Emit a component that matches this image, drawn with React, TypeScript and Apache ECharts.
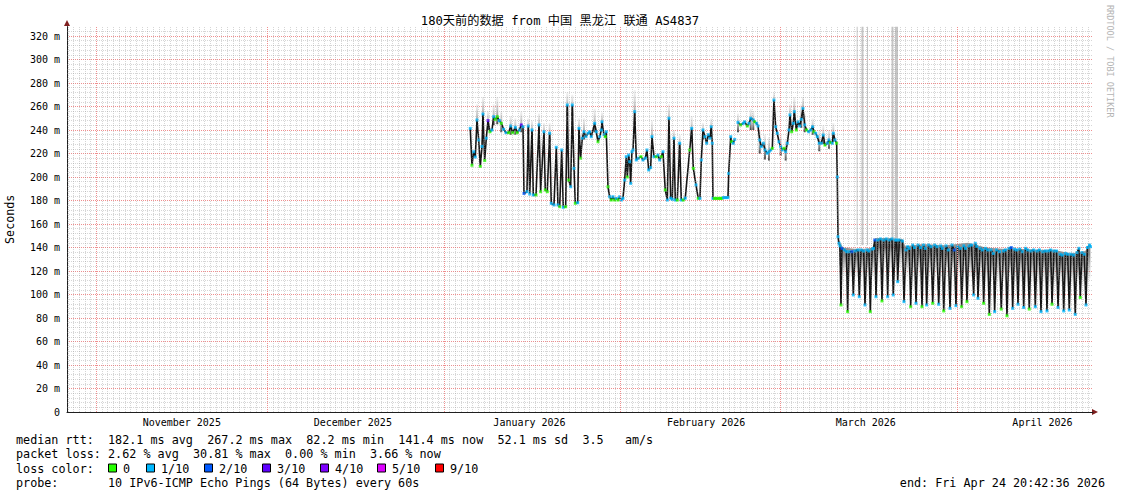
import React, { useEffect, useRef } from 'react';
import * as echarts from 'echarts';

const MONO = "'DejaVu Sans Mono', 'Liberation Mono', monospace";
const TITLE_FONT = "'DejaVu Sans Mono', 'Noto Sans CJK SC', monospace";
const AXIS_COLOR = '#1f1f1f';
const ARROW_COLOR = '#801f1f';
const GRID_COLOR = 'rgba(140,140,140,0.36)';
const MGRID_COLOR = '#ef8f8f';

// x = days since 2026-01-01 00:00
const X_START = -66.1375; // Sun Oct 26 20:42:36 2025
const X_END = 113.8625; // Fri Apr 24 20:42:36 2026
const Y_MAX = 328;

const TITLE = '180天前的数据 from 中国 黑龙江 联通 AS4837';
const monthStarts = [-61, -31, 0, 31, 59, 90];
const monthLabelDays = [-46, -16, 15, 46, 74, 105];
const monthLabels = ['November 2025', 'December 2025', 'January 2026', 'February 2026', 'March 2026', 'April 2026'];

const lossColors = ['#26ff00', '#00b8ff', '#0059ff', '#5e00ff', '#7e00ff', '#dd00ff', '#ff0000'];
const lossLabels = ['0', '1/10', '2/10', '3/10', '4/10', '5/10', '9/10'];

// median rtt [day, ms, loss level]
const medianJan = [
  [4.61, 241.4, 1], [4.91, 210, 0], [5.21, 221.5, 1], [5.49, 217, 1], [5.79, 248.5, 1], [6.09, 231.5, 1],
  [6.37, 209, 0], [6.67, 226, 1], [6.84, 253.6, 1], [7.14, 214, 0], [7.42, 233, 1], [7.72, 248, 3],
  [8.07, 238.5, 0], [8.42, 240, 1], [8.72, 251.3, 1], [9.0, 249, 0], [9.35, 251.3, 0], [9.7, 248, 1],
  [10.05, 245.7, 0], [10.47, 240.6, 1], [10.88, 237.7, 1], [11.35, 237.7, 0], [11.7, 243.4, 1], [12.05, 237.7, 0],
  [12.51, 242.3, 1], [12.86, 237.7, 0], [13.21, 240, 1], [13.56, 244.3, 3], [13.86, 242.8, 1], [14.04, 186, 2],
  [14.56, 187.5, 1], [14.79, 243.4, 1], [15.04, 185.5, 1], [15.44, 240, 1], [15.67, 184.7, 1], [16.14, 184.7, 0],
  [16.67, 244.3, 1], [16.96, 187.5, 0], [17.54, 238.5, 1], [17.77, 189, 0], [18.12, 187.5, 0], [18.54, 237.2, 1],
  [18.82, 177.6, 1], [19.3, 176.2, 1], [19.7, 225.3, 1], [20.0, 176.2, 1], [20.3, 174.7, 0], [20.65, 223, 1],
  [20.93, 174.2, 1], [21.35, 174.7, 0], [21.63, 261.3, 1], [21.88, 197.4, 0], [22.23, 191.7, 1], [22.51, 261.3, 1],
  [22.81, 207.4, 1], [23.04, 177.6, 0], [23.46, 178.1, 1], [23.68, 241.4, 1], [23.98, 216, 0], [24.26, 233, 1],
  [24.56, 238.5, 1], [24.91, 234.3, 1], [25.26, 237.2, 1], [25.56, 238.5, 1],
];

const medianFeb = [
  [25.84, 234.3, 1], [26.44, 245.7, 1], [26.72, 238.5, 1], [27.02, 230, 0], [27.32, 234.3, 1], [27.6, 240, 1],
  [27.72, 247, 1], [28.07, 236, 1], [28.3, 234.3, 0], [28.47, 238.5, 1], [28.77, 191.7, 0], [29.07, 183.2, 1],
  [29.35, 180.4, 0], [29.65, 183.2, 1], [29.95, 180.4, 0], [30.23, 181.8, 1], [30.53, 180.4, 0], [30.82, 183.2, 1],
  [31.11, 180.4, 1], [31.4, 181.8, 1], [31.7, 197.4, 1], [31.98, 217.3, 1], [32.16, 200, 0], [32.4, 218.7, 1],
  [32.58, 213, 1], [32.75, 194.6, 1], [32.98, 221.5, 1], [33.16, 223, 1], [33.46, 255.6, 1], [33.74, 214.5, 1],
  [34.09, 216, 1], [34.56, 217.3, 0], [34.91, 214.5, 1], [35.32, 216, 1], [35.61, 223, 1], [35.91, 206, 1],
  [36.26, 208, 1], [36.49, 234.3, 1], [36.84, 217.3, 1], [37.25, 217.3, 0], [37.54, 218.7, 1], [37.84, 214.5, 1],
  [38.12, 217.3, 0], [38.42, 221.5, 1], [38.82, 189, 0], [39.18, 180.4, 1], [39.47, 250, 1], [39.77, 182, 1],
  [40.05, 181, 1], [40.35, 233, 1], [40.58, 180.4, 1], [40.93, 180.4, 0], [41.35, 228.7, 1], [41.63, 180.4, 1],
  [41.98, 180.4, 0], [42.33, 182, 1], [43.11, 223, 0], [43.46, 241.4, 1], [43.74, 207.4, 0], [44.21, 193.2, 1],
  [44.61, 181.8, 0], [44.91, 181.8, 1], [45.14, 214.5, 1], [45.44, 240, 1], [45.79, 234.3, 1], [46.09, 228.7, 1],
  [46.37, 236, 1], [46.67, 233, 1], [46.89, 242.8, 1], [47.07, 228.7, 1], [47.19, 181.8, 1], [47.45, 181.8, 0],
  [47.72, 181.8, 0], [47.98, 181.8, 0], [48.25, 181.8, 0], [48.51, 181.8, 0], [48.77, 181.8, 0], [49.04, 182.5, 1],
  [49.3, 182.5, 1], [49.56, 182.5, 1], [49.82, 182.5, 1], [49.95, 203.1, 1], [50.3, 234.3, 1], [50.47, 230, 0],
  [50.75, 228.7, 1], [51.0, 232, 1],
];

const medianMarA = [
  [51.58, 246.5, 1], [52.05, 244.3, 0], [52.51, 245.7, 1], [52.75, 247, 1], [53.21, 243.4, 0], [53.51, 245.7, 1],
  [53.81, 250, 1], [54.26, 248.5, 1], [54.51, 247, 0], [54.86, 245.7, 1], [55.09, 243.4, 1], [55.39, 231.5, 1],
  [55.67, 225.8, 1], [56.02, 228.7, 1], [56.32, 223, 1], [56.72, 220.2, 1], [57.02, 221.5, 1], [57.32, 223, 1],
  [57.6, 224.4, 0], [57.89, 265.5, 1], [58.19, 242.8, 1], [58.47, 237.2, 1], [58.77, 230, 1], [59.07, 225.8, 1],
  [59.35, 223, 1], [59.65, 224.4, 0], [59.95, 221.5, 1], [60.23, 228.7, 1], [60.53, 240, 1], [60.7, 252.8, 1],
  [61.0, 238.5, 0], [61.28, 245.7, 1], [61.46, 255.6, 1], [61.81, 240, 0], [62.11, 247, 1], [62.4, 243.4, 1],
  [62.68, 249.1, 1], [62.98, 258.4, 1], [63.28, 244.3, 1], [63.63, 240, 0], [63.98, 238.5, 1], [64.33, 240, 1],
  [64.68, 242.8, 1], [64.91, 238.5, 0], [65.21, 237.2, 1], [65.49, 234.3, 1], [65.84, 228.7, 1], [66.19, 228.7, 1],
  [66.54, 235.7, 1], [66.84, 227.2, 0], [67.25, 228.7, 1], [67.54, 231.5, 1], [67.84, 229.3, 0], [68.12, 228.7, 1],
  [68.3, 237.2, 1], [68.6, 231.5, 1], [68.89, 228.7, 0], [69.0, 200, 1], [69.12, 149.2, 1], [69.3, 143.6, 1],
];

const medianMarB = [
  [69.47, 141.4, 1], [69.65, 91.1, 0], [69.82, 139.3, 2], [70.23, 137.9, 1], [70.61, 136.4, 1], [70.82, 85.4, 0],
  [71.05, 136.4, 1], [71.58, 136.4, 2], [71.81, 99.6, 1], [72.11, 137, 1], [72.63, 137.9, 1], [72.86, 98.1, 1],
  [73.16, 137.9, 1], [73.63, 137, 1], [73.86, 91.1, 1], [74.21, 137.9, 1], [74.56, 137, 1], [74.79, 85.4, 0],
  [75.09, 138.6, 1], [75.35, 139.3, 1], [75.58, 146.4, 2], [75.79, 98.1, 1], [76.09, 146.4, 1], [76.58, 147.3, 1],
  [76.84, 94.5, 0], [77.14, 146.4, 1], [77.6, 147.3, 1], [77.84, 98.1, 1], [78.12, 146.4, 1], [78.6, 147.3, 1],
  [78.82, 99.6, 1], [79.18, 146.4, 1], [79.42, 146.4, 1], [79.6, 110.9, 1], [79.88, 146.4, 1], [80.44, 145.5, 1],
  [80.7, 93.9, 1], [81.05, 137.9, 1], [81.35, 140.7, 1], [81.63, 139.3, 1], [81.88, 89.6, 0], [82.23, 142.1, 1],
  [82.54, 139.9, 1], [82.81, 92.5, 1], [83.16, 142.1, 1], [83.6, 139.9, 1], [83.86, 89.6, 0], [84.12, 142.1, 1],
  [84.44, 139.3, 1], [84.68, 91.1, 1], [85.04, 142.1, 1], [85.44, 140.7, 1], [85.74, 92.5, 0], [86.09, 142.1, 1],
  [86.49, 140.7, 1], [86.79, 91.7, 1], [87.14, 141.4, 1], [87.42, 139.3, 1], [87.67, 86, 0], [88.07, 141.4, 1],
  [88.47, 137.9, 1], [88.77, 88.2, 1], [89.12, 142.1, 1], [89.53, 137.9, 2], [89.82, 90.5, 1], [90.12, 140.7, 1],
  [90.58, 139.3, 1], [90.82, 89.6, 0], [91.18, 141.4, 1], [91.49, 139.3, 1], [91.75, 93.9, 0], [92.11, 141.4, 1],
  [92.54, 142.1, 1], [92.93, 99.6, 1], [93.21, 143.6, 1], [93.46, 141, 1], [93.68, 96.7, 1], [94.04, 139.3, 1],
  [94.44, 137.9, 1], [94.68, 92.5, 0], [95.0, 139.3, 1], [95.39, 137.9, 1], [95.67, 83.1, 0], [95.96, 137.9, 1],
  [96.37, 135, 1], [96.61, 85.4, 1], [96.93, 137.9, 1], [97.46, 136.4, 1], [97.77, 87.6, 0], [98.12, 137, 1],
  [98.51, 137.9, 1], [98.77, 81.9, 0], [99.12, 139.3, 1], [99.53, 139.9, 2], [99.77, 88.2, 1], [100.09, 138.6, 1],
  [100.44, 137.9, 1], [100.7, 91.7, 1], [101.0, 138.6, 1], [101.46, 136.4, 1], [101.7, 88.9, 1], [102.02, 139.3, 1],
  [102.4, 137.9, 1], [102.68, 87.6, 0], [102.98, 137, 1], [103.46, 137.9, 1], [103.74, 89.6, 1], [104.04, 137, 1],
  [104.47, 137.9, 1], [104.74, 85.4, 1], [105.04, 136.4, 1], [105.53, 137, 1], [105.79, 86, 1], [106.05, 137, 1],
  [106.44, 137.9, 1], [106.67, 91.7, 0], [107.02, 137, 1], [107.46, 137, 1], [107.72, 88.9, 1], [108.07, 134.3, 1],
  [108.47, 133.6, 1], [108.72, 86, 1], [109.04, 135, 1], [109.42, 134.3, 1], [109.7, 86.8, 1], [110.0, 134.3, 1],
  [110.47, 133.6, 1], [110.75, 83.1, 1], [111.05, 135.7, 1], [111.4, 139.3, 1], [111.63, 97.4, 0], [111.93, 135.7, 1],
  [112.33, 134.3, 1], [112.63, 91.1, 1], [112.89, 140, 1], [113.25, 142.1, 1], [113.42, 140.7, 1],
];

// smoke streaks above peaks [day, low ms, high ms]
const smokeStreaks = [
  [5.79, 240, 262], [6.84, 245, 268], [7.72, 240, 256], [8.72, 244, 262], [9.35, 245, 268], [10.05, 238, 256],
  [11.7, 236, 252], [12.51, 236, 250], [13.56, 238, 256], [14.79, 236, 250], [15.44, 234, 248], [16.67, 236, 254],
  [17.54, 232, 246], [18.54, 230, 246], [21.63, 252, 272], [22.51, 252, 270], [23.68, 234, 250], [24.56, 232, 250],
  [26.44, 238, 258], [27.72, 240, 255], [33.46, 245, 274], [36.49, 226, 248], [39.47, 240, 262], [40.35, 226, 240],
  [41.35, 220, 236], [43.46, 232, 252], [45.44, 232, 246], [46.89, 235, 250], [51.58, 238, 254], [53.81, 240, 258],
  [54.26, 240, 256], [55.39, 220, 240], [56.32, 215, 236], [57.02, 214, 234], [57.89, 255, 272], [59.07, 218, 236],
  [59.95, 214, 232], [60.7, 244, 262], [61.46, 248, 268], [62.68, 242, 262], [62.98, 250, 268], [63.28, 238, 254],
  [64.68, 236, 250], [65.84, 222, 240], [66.54, 228, 244], [67.54, 224, 240], [68.3, 230, 246],
];

// smoke band after the drop [day, low ms, high ms]
const smokeBand = [
  [69.3, 126, 146], [70.0, 116, 140], [72.0, 114, 139], [74.0, 114, 139], [75.4, 116, 140], [75.6, 122, 148],
  [78.0, 122, 148], [80.5, 121, 147], [80.9, 114, 141], [84.0, 115, 143], [88.0, 114, 142], [92.0, 115, 144],
  [95.0, 112, 140], [98.0, 111, 139], [101.0, 111, 139], [104.0, 110, 138], [107.0, 109, 138], [110.0, 107, 135],
  [112.5, 108, 137], [113.4, 114, 143],
];

// outlier pings reaching the top [day from, day to, low ms, high ms]
const outlierStreaks = [
  [72.4, 72.56, 142, 328], [73.25, 73.6, 142, 328], [74.22, 74.39, 142, 328],
  [78.51, 78.86, 148, 328], [79.12, 79.65, 148, 328],
];

const legendRow1 = [
  [0, 'median rtt:'], [13, '182.1 ms avg'], [27, '267.2 ms max'], [41, '82.2 ms min'],
  [54, '141.4 ms now'], [68, '52.1 ms sd'], [80, '3.5'], [86, 'am/s'],
];
const legendRow2 = [
  [0, 'packet loss:'], [13, '2.62 % avg'], [25, '30.81 % max'], [38, '0.00 % min'], [50, '3.66 % now'],
];
const legendRow4 = [[0, 'probe:'], [13, '10 IPv6-ICMP Echo Pings (64 Bytes) every 60s']];
const endText = 'end: Fri Apr 24 20:42:36 2026';
const lossBoxX = [108, 146, 204, 262, 320, 377, 435];

const CHAR_W = 7.08;
const LEG_X = 16;
const LEG_FONT = `11.76px ${MONO}`;
const ROW_Y = [439.5, 454, 468.5, 483];

function legendText(x: number, y: number, text: string, align = 'left') {
  return {
    type: 'text', x, y, silent: true,
    style: { text, font: LEG_FONT, fill: '#000', align, textAlign: align, verticalAlign: 'middle', textVerticalAlign: 'middle' },
  };
}

function buildOption() {
  const minorStyle = { color: GRID_COLOR, type: [1, 1], width: 1 };
  const dayLines: number[] = [];
  for (let d = Math.ceil(X_START); d <= Math.floor(X_END); d++) {
    if (!monthStarts.includes(d)) dayLines.push(d);
  }
  const minorRows: number[] = [];
  for (let v = 4; v < Y_MAX; v += 4) {
    if (v % 20 !== 0) minorRows.push(v);
  }

  const graphic: any[] = [
    {
      type: 'text', x: 560, y: 21, silent: true,
      style: { text: TITLE, font: `12.2px ${TITLE_FONT}`, fill: '#000', align: 'center', textAlign: 'center', verticalAlign: 'middle', textVerticalAlign: 'middle' },
    },
    {
      type: 'text', x: 1110, y: 5, rotation: -Math.PI / 2, silent: true,
      style: { text: 'RRDTOOL / TOBI OETIKER', font: `8.5px ${MONO}`, fill: '#b4b4b4', align: 'left', textAlign: 'left', verticalAlign: 'middle', textVerticalAlign: 'middle' },
    },
    { type: 'polygon', silent: true, shape: { points: [[1092, 409], [1098, 412], [1092, 415]] }, style: { fill: ARROW_COLOR } },
    { type: 'polygon', silent: true, shape: { points: [[64, 26], [67, 20], [70, 26]] }, style: { fill: ARROW_COLOR } },
  ];
  legendRow1.forEach(([c, t]) => graphic.push(legendText(LEG_X + (c as number) * CHAR_W, ROW_Y[0], t as string)));
  legendRow2.forEach(([c, t]) => graphic.push(legendText(LEG_X + (c as number) * CHAR_W, ROW_Y[1], t as string)));
  graphic.push(legendText(LEG_X, ROW_Y[2], 'loss color:'));
  lossBoxX.forEach((bx, i) => {
    graphic.push({
      type: 'rect', silent: true,
      shape: { x: bx + 0.5, y: ROW_Y[2] - 4.5, width: 8, height: 8 },
      style: { fill: lossColors[i], stroke: '#000', lineWidth: 1 },
    });
    graphic.push(legendText(bx + 15, ROW_Y[2], lossLabels[i]));
  });
  legendRow4.forEach(([c, t]) => graphic.push(legendText(LEG_X + (c as number) * CHAR_W, ROW_Y[3], t as string)));
  graphic.push(legendText(1105, ROW_Y[3], endText, 'right'));

  const streakRender = (params: any, api: any) => {
    const t = api.value(0);
    const lo = api.coord([t, api.value(1)]);
    const hi = api.coord([t, api.value(2)]);
    const w = Math.max(2, api.size([0.35, 0])[0]);
    return {
      type: 'rect',
      shape: { x: lo[0] - w / 2, y: hi[1], width: w, height: lo[1] - hi[1] },
      style: {
        fill: new echarts.graphic.LinearGradient(0, 0, 0, 1, [
          { offset: 0, color: 'rgba(200,200,200,0.25)' },
          { offset: 0.6, color: 'rgba(120,120,120,0.6)' },
          { offset: 1, color: 'rgba(50,50,50,0.9)' },
        ]),
      },
    };
  };

  const bandRender = (params: any, api: any) => {
    const i = params.dataIndex;
    const next = smokeBand[i + 1];
    if (!next) return { type: 'group', children: [] };
    const t = api.value(0);
    const a = api.coord([t, api.value(2)]);
    const b = api.coord([next[0], next[2]]);
    const c = api.coord([next[0], next[1]]);
    const d = api.coord([t, api.value(1)]);
    return {
      type: 'polygon',
      shape: { points: [a, b, c, d] },
      style: {
        fill: new echarts.graphic.LinearGradient(0, 0, 0, 1, [
          { offset: 0, color: 'rgba(70,70,70,0.55)' },
          { offset: 0.25, color: 'rgba(50,50,50,0.6)' },
          { offset: 0.6, color: 'rgba(110,110,110,0.35)' },
          { offset: 1, color: 'rgba(190,190,190,0.05)' },
        ]),
      },
    };
  };

  const outlierRender = (params: any, api: any) => {
    const p0 = api.coord([api.value(0), api.value(3)]);
    const p1 = api.coord([api.value(1), api.value(2)]);
    return {
      type: 'rect',
      shape: { x: p0[0], y: p0[1], width: Math.max(1, p1[0] - p0[0]), height: p1[1] - p0[1] },
      style: { fill: '#c4c4c4' },
    };
  };

  const lineA = [...medianJan, ...medianFeb];
  const lineB = [...medianMarA, ...medianMarB];
  const allMedian = [...lineA, ...lineB];

  const markBase = { silent: true, symbol: ['none', 'none'], label: { show: false }, emphasis: { disabled: true }, animation: false };

  return {
    animation: false,
    backgroundColor: '#ffffff',
    textStyle: { fontFamily: MONO },
    grid: { left: 67, right: 28, top: 26.6, bottom: 82, containLabel: false, outerBoundsMode: 'none' },
    xAxis: {
      type: 'value', min: X_START, max: X_END,
      axisLine: { show: true, onZero: false, lineStyle: { color: AXIS_COLOR, width: 1 } },
      axisTick: { show: false },
      splitLine: { show: false },
      axisLabel: {
        customValues: monthLabelDays,
        formatter: (v: number) => {
          const i = monthLabelDays.findIndex((d) => Math.abs(d - v) < 0.01);
          return i >= 0 ? monthLabels[i] : '';
        },
        fontFamily: MONO, fontSize: 10, color: '#000', margin: 5,
      },
    },
    yAxis: {
      type: 'value', min: 0, max: Y_MAX, interval: 20,
      name: 'Seconds', nameLocation: 'middle', nameGap: 51, nameRotate: 90,
      nameTextStyle: { fontFamily: MONO, fontSize: 11.7, color: '#000' },
      axisLine: { show: true, onZero: false, lineStyle: { color: AXIS_COLOR, width: 1 } },
      axisTick: { show: false },
      axisLabel: {
        showMaxLabel: false,
        formatter: (v: number) => (v % 20 === 0 ? (v === 0 ? '0' : `${v} m`) : ''),
        fontFamily: MONO, fontSize: 10, color: '#000', margin: 7,
      },
      splitLine: { show: true, showMinLine: false, showMaxLine: false, lineStyle: { color: MGRID_COLOR, type: [1, 1], width: 1 } },
    },
    graphic,
    series: [
      {
        type: 'line', data: [], silent: true, z: 0,
        markLine: {
          ...markBase, lineStyle: minorStyle,
          data: [...dayLines.map((d) => ({ xAxis: d })), ...minorRows.map((v) => ({ yAxis: v }))],
        },
      },
      {
        type: 'line', data: [], silent: true, z: 1,
        markLine: { ...markBase, lineStyle: { color: MGRID_COLOR, type: [1, 1], width: 1 }, data: monthStarts.map((d) => ({ xAxis: d })) },
      },
      { type: 'custom', name: 'outliers', data: outlierStreaks, renderItem: outlierRender, encode: { x: [0, 1], y: [2, 3] }, clip: true, silent: true, z: 2 },
      { type: 'custom', name: 'smoke band', data: smokeBand, renderItem: bandRender, encode: { x: 0, y: [1, 2] }, clip: true, silent: true, z: 2 },
      { type: 'custom', name: 'smoke', data: smokeStreaks, renderItem: streakRender, encode: { x: 0, y: [1, 2] }, clip: true, silent: true, z: 2 },
      { type: 'line', name: 'median A', data: lineA, showSymbol: false, symbol: 'none', lineStyle: { color: '#151515', width: 1.6 }, silent: true, z: 3 },
      { type: 'line', name: 'median B', data: lineB, showSymbol: false, symbol: 'none', lineStyle: { color: '#151515', width: 1.6 }, silent: true, z: 3 },
      {
        type: 'scatter', name: 'median', data: allMedian, symbol: 'rect', symbolSize: 3, silent: true, z: 4,
        itemStyle: { color: (p: any) => lossColors[p.data[2]] },
      },
    ],
  };
}

export default function App() {
  const ref = useRef<HTMLDivElement>(null);
  useEffect(() => {
    document.body.style.margin = '0';
    const chart = echarts.init(ref.current as HTMLDivElement, null, { renderer: 'svg' });
    chart.setOption(buildOption() as any);
    return () => chart.dispose();
  }, []);
  return <div ref={ref} style={{ width: 1121, height: 494 }} />;
}
